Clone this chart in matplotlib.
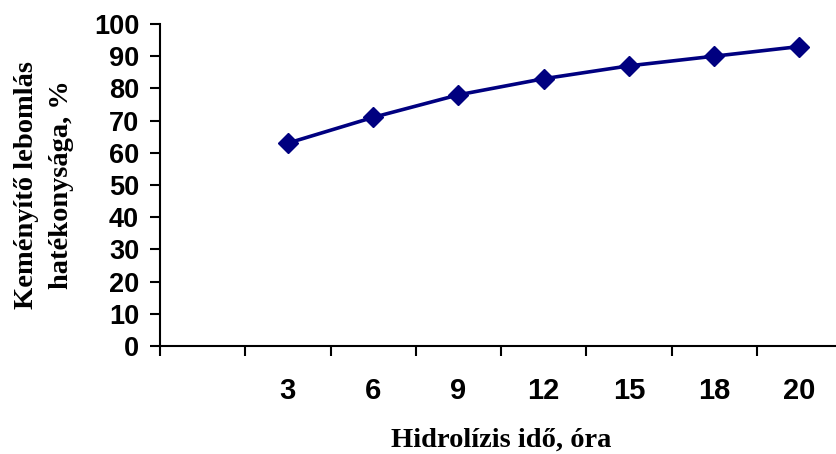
import matplotlib
matplotlib.use("Agg")
import matplotlib.pyplot as plt
import numpy as np

# categories (first slot is empty, as in the original chart)
hours = ["", "3", "6", "9", "12", "15", "18", "20"]
efficiency = [np.nan, 63, 71, 78, 83, 87, 90, 93]

W, H = 836, 454
fig = plt.figure(figsize=(W / 100, H / 100), dpi=100)
ax = fig.add_axes([160 / W, (H - 346) / H, (842 - 160) / W, (346 - 24) / H])

x = np.arange(len(hours))
ax.plot(x, efficiency, color="#000080", linewidth=2.6,
        marker="D", markersize=10.5, markeredgewidth=1)

ax.set_xlim(-0.5, len(hours) - 0.5)
ax.set_ylim(0, 100)
ax.set_yticks(range(0, 101, 10))

# ticks at category boundaries, labels centered in the categories
ax.set_xticks(np.arange(-0.5, len(hours), 1))
ax.set_xticklabels([])
ax.set_xticks(x, minor=True)
ax.set_xticklabels(hours, minor=True)

for s in ["top", "right"]:
    ax.spines[s].set_visible(False)
for s in ["left", "bottom"]:
    ax.spines[s].set_linewidth(1.5)

ax.tick_params(axis="both", which="major", length=7, width=1.5, direction="out")
ax.tick_params(axis="y", pad=8)
ax.tick_params(axis="x", which="minor", length=0, pad=22)
for lab in ax.get_yticklabels():
    lab.set_fontproperties(dict(family="Liberation Sans", weight="bold", size=19.5))
for lab in ax.get_xticklabels(minor=True):
    lab.set_fontproperties(dict(family="Liberation Sans", weight="bold", size=21))

label_font = dict(family="Liberation Serif", weight="bold", size=20.5)
fig.text(501 / W, 1 - 440 / H, "Hidrolízis idő, óra", ha="center", va="center", **label_font)
fig.text(44 / W, 1 - 185 / H, "Keményítő lebomlás\nhatékonysága, %", rotation=90,
         ha="center", va="center", multialignment="center", linespacing=1.5, **label_font)

fig.savefig("out.png", dpi=100)
